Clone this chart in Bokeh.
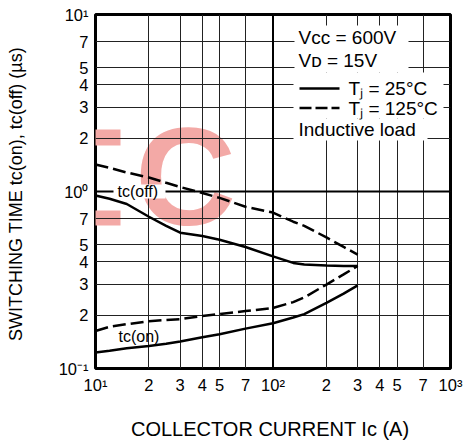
from bokeh.plotting import figure
from bokeh.models import FixedTicker, Span, Label, BoxAnnotation, Arrow
from bokeh.embed import file_html
from bokeh.resources import INLINE

# ---- data ----
ic = [10, 12, 15, 20, 25, 30, 40, 50, 70, 100, 130, 150, 200, 250, 300]
tc_off_25 = [0.95, 0.91, 0.85, 0.72, 0.64, 0.585, 0.56, 0.534, 0.486, 0.43, 0.395, 0.387, 0.382, 0.38, 0.38]
tc_off_125 = [1.42, 1.36, 1.28, 1.20, 1.12, 1.06, 0.98, 0.92, 0.82, 0.76, 0.675, 0.64, 0.55, 0.486, 0.44]
tc_on_25 = [0.123, 0.126, 0.13, 0.134, 0.138, 0.142, 0.15, 0.156, 0.168, 0.18, 0.194, 0.203, 0.235, 0.265, 0.295]
tc_on_125 = [0.163, 0.172, 0.178, 0.185, 0.188, 0.19, 0.198, 0.203, 0.211, 0.22, 0.237, 0.252, 0.298, 0.34, 0.38]

x_ticks = [10, 20, 30, 40, 50, 70, 100, 200, 300, 400, 500, 700, 1000]
x_tick_labels = ["10¹", "2", "3", "4", "5", "7", "10²", "2", "3", "4", "5", "7", "10³"]
y_ticks = [0.1, 0.2, 0.3, 0.4, 0.5, 0.7, 1, 2, 3, 4, 5, 7, 10]
y_tick_labels = ["10⁻¹", "2", "3", "4", "5", "7", "10⁰", "2", "3", "4", "5", "7", "10¹"]

x_title = "COLLECTOR CURRENT  Iᴄ (A)"
y_title = "SWITCHING TIME  tc(on), tc(off) (µs)"
legend_texts = ["Vᴄᴄ = 600V", "Vᴅ = 15V", "Tⱼ = 25°C", "Tⱼ = 125°C", "Inductive load"]

FONT = "Liberation Sans"
WM = "#f3a9a6"


# picture pixel -> data helpers (for annotation placement only)
def dx(px):
    return 10 ** (1 + (px - 95) / 177.5)


def dy(py):
    return 10 ** (1 - (py - 14) / 177.0)


p = figure(frame_width=355, frame_height=354, x_axis_type="log", y_axis_type="log",
           x_range=(10, 1000), y_range=(0.1, 10),
           output_backend="svg", toolbar_location=None,
           min_border_left=95, min_border_right=19, min_border_top=14, min_border_bottom=78)

p.outline_line_color = "black"
p.outline_line_width = 3

for ax, ticks, labels in ((p.xaxis, x_ticks, x_tick_labels), (p.yaxis, y_ticks, y_tick_labels)):
    ax.ticker = FixedTicker(ticks=ticks)
    ax.major_label_overrides = dict(zip(ticks, labels))
    ax.axis_line_color = None
    ax.major_tick_line_color = None
    ax.minor_tick_line_color = None
    ax.major_tick_out = 0
    ax.major_tick_in = 0
    ax.minor_tick_out = 0
    ax.major_label_text_font = FONT
    ax.major_label_text_font_size = "16.5px"
    ax.major_label_text_color = "black"
    ax.axis_label_text_font = FONT
    ax.axis_label_text_font_style = "normal"
    ax.axis_label_text_color = "black"

p.xaxis.major_label_standoff = 7
p.yaxis.major_label_standoff = 7
p.xaxis.axis_label = x_title
p.yaxis.axis_label = y_title
p.xaxis.axis_label_text_font_size = "20px"
p.yaxis.axis_label_text_font_size = "18px"
p.xaxis.axis_label_standoff = 21
p.yaxis.axis_label_standoff = 30

p.grid.grid_line_color = "#222222"
p.grid.grid_line_width = 1
p.grid.grid_line_alpha = 1

# watermark (behind the grid): big "C" and the visible serif ends of an "I"
p.add_layout(Label(x=dx(185), y=dy(175.5), text="C", text_align="center", text_baseline="middle",
                   text_font=FONT, text_font_style="bold", text_font_size="140px",
                   text_color=WM, level="image"))
for l, r, t, b in ((80, 120, 129, 145), (80, 120, 210, 225)):
    p.add_layout(BoxAnnotation(left=dx(l), right=dx(r), top=dy(t), bottom=dy(b),
                               fill_color=WM, fill_alpha=1, line_color=None, level="image"))

# thicker decade lines
p.add_layout(Span(location=100, dimension="height", line_color="black", line_width=2, level="underlay"))
p.add_layout(Span(location=1, dimension="width", line_color="black", line_width=2, level="underlay"))

# white gaps behind curve label and legend rows
for l, r, t, b in ((113, 165, 184, 198), (294, 408, 25, 72), (293, 443, 72, 118), (293, 427, 118, 140)):
    p.add_layout(BoxAnnotation(left=dx(l), right=dx(r), top=dy(t), bottom=dy(b),
                               fill_color="white", fill_alpha=1, line_color=None, level="underlay"))

# curves
p.line(ic, tc_off_25, line_color="black", line_width=2.5)
p.line(ic, tc_off_125, line_color="black", line_width=2.5, line_dash="13 5")
p.line(ic, tc_on_25, line_color="black", line_width=2.5)
p.line(ic, tc_on_125, line_color="black", line_width=2.5, line_dash="13 5")

# curve labels
p.add_layout(Label(x=dx(117), y=dy(191), text="tc(off)", text_baseline="middle",
                   text_font=FONT, text_font_size="16px", text_color="black"))
p.add_layout(Label(x=dx(118), y=dy(335.5), text="tc(on)", text_baseline="middle",
                   text_font=FONT, text_font_size="16px", text_color="black"))

# legend block
for txt, lx, cy in zip(legend_texts, (298, 298, 348, 348, 298), (37, 60, 88, 107.5, 129.2)):
    p.add_layout(Label(x=dx(lx), y=dy(cy), text=txt, text_baseline="middle",
                       text_font=FONT, text_font_size="19px", text_color="black"))
p.add_layout(Arrow(end=None, x_start=dx(299), y_start=dy(88), x_end=dx(339), y_end=dy(88),
                   line_color="black", line_width=2.5))
p.add_layout(Arrow(end=None, x_start=dx(299), y_start=dy(107.5), x_end=dx(339), y_end=dy(107.5),
                   line_color="black", line_width=2.5, line_dash="12 4"))

open("out.html", "w").write(file_html(p, INLINE))
